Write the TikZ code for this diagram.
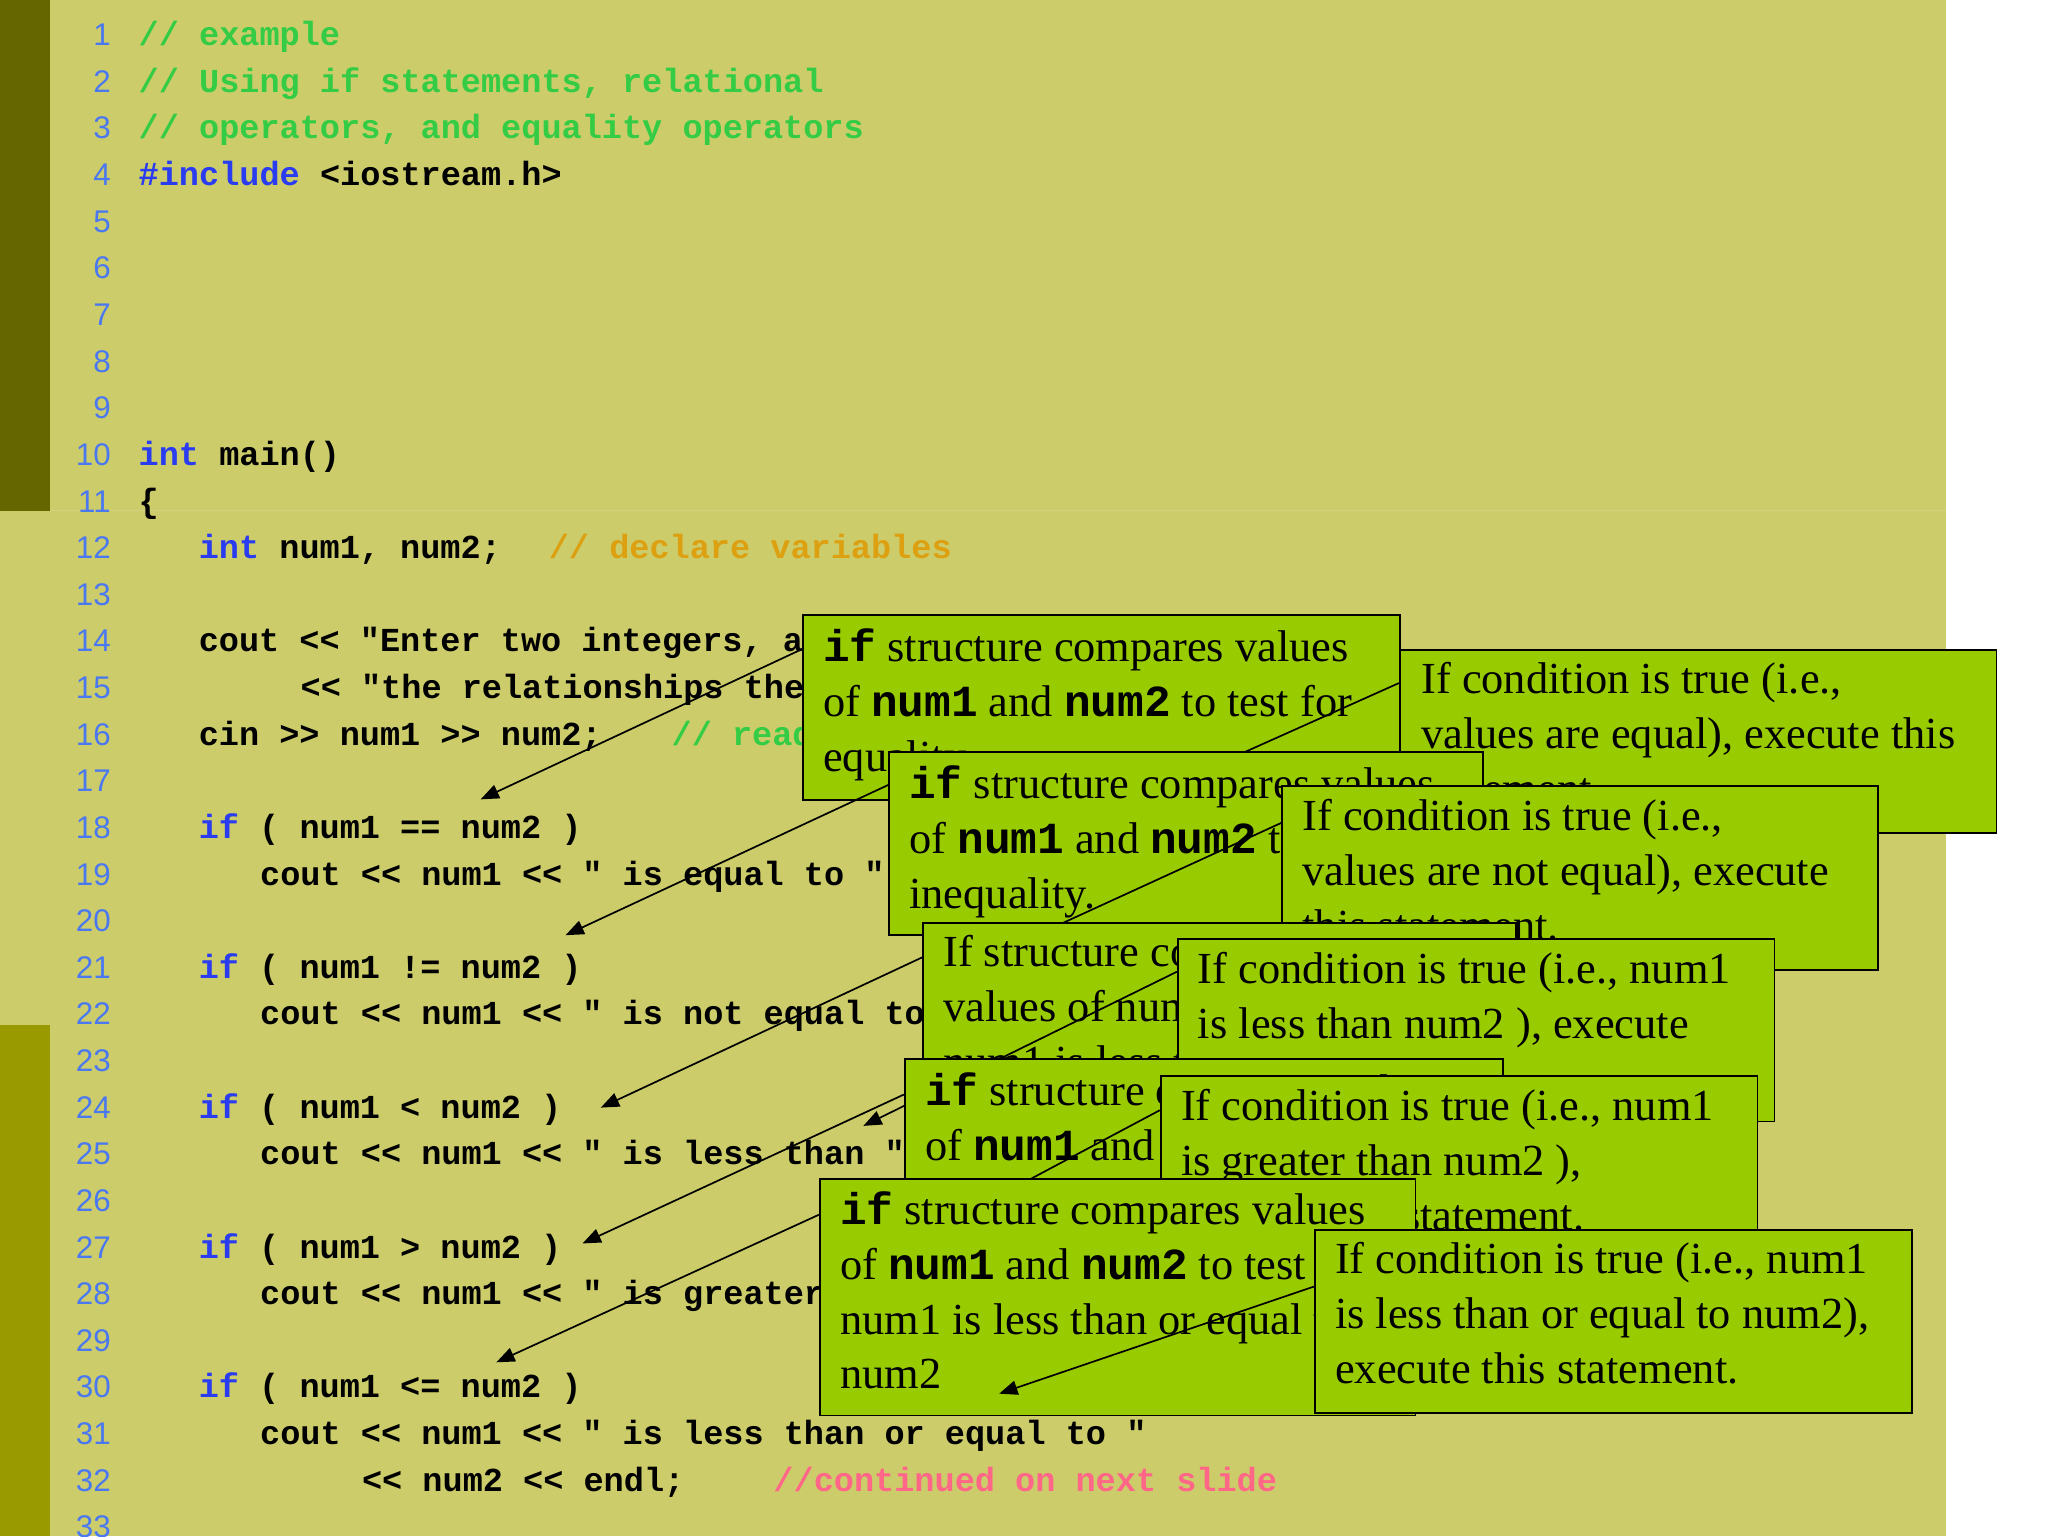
\documentclass[tikz,border=0pt]{standalone}
\usepackage{fontspec}
\setmainfont{Liberation Serif}
\setmonofont{Liberation Mono}
\newfontfamily\numfont{Liberation Sans}
\usetikzlibrary{arrows.meta,calc}
\definecolor{bgc}{HTML}{CCCC6A}
\definecolor{darkstrip}{HTML}{666600}
\definecolor{midstrip}{HTML}{999900}
\definecolor{numc}{HTML}{4A78F0}
\definecolor{kwc}{HTML}{2A3CF0}
\definecolor{cmc}{HTML}{33CC44}
\definecolor{orc}{HTML}{DDA010}
\definecolor{pkc}{HTML}{FF6688}
\definecolor{boxc}{HTML}{99CC00}
\newcommand{\kw}[1]{{\color{kwc}#1}}
\newcommand{\bm}[1]{{\ttfamily\bfseries #1}}
\tikzset{
 codeline/.style={anchor=base west,inner sep=0pt,font=\ttfamily\bfseries\fontsize{25.7}{30}\selectfont},
 lnum/.style={anchor=base east,inner sep=0pt,text=numc,font=\numfont\fontsize{24}{28}\selectfont},
 callout/.style={draw=black,line width=1.3pt,fill=boxc,anchor=north west,inner sep=0pt},
 ctext/.style={anchor=north west,inner sep=0pt,align=left,font=\fontsize{34}{42}\selectfont},
 arr/.style={line width=1.3pt,-{Triangle[length=14pt,width=11pt]}}
}
\newcommand{\cl}[3]{\node[codeline] (c#1) at (#2,{26+(#1-1)*35.7+9}) {#3};}
\begin{document}
\begin{tikzpicture}[x=1pt,y=-1pt]
\useasboundingbox (0,0) rectangle (1568,1176);
\fill[white] (0,0) rectangle (1568,1176);
\fill[bgc] (0,0) rectangle (1490,1176);
\fill[darkstrip] (0,0) rectangle (38,391);
\fill[midstrip] (0,785) rectangle (38,1176);
\draw[bgc!85!white,line width=1pt] (38,391) -- (1490,391);
% line numbers
\foreach \n in {1,...,33} \node[lnum] (n\n) at (85,{26+(\n-1)*35.7+9}) {\n};
% code
\cl{1}{106}{\color{cmc}// example}
\cl{2}{106}{\color{cmc}// Using if statements, relational}
\cl{3}{106}{\color{cmc}// operators, and equality operators}
\cl{4}{106}{\kw{\#include} <iostream.h>}
\cl{10}{106}{\kw{int} main()}
\cl{11}{106}{\{}
\cl{12}{152}{\kw{int} num1, num2;}
\node[codeline,text=orc] (k12) at (420,{26+11*35.7+9}) {// declare variables};
\cl{14}{152}{cout << "Enter two integers, and I will tell you\textbackslash n"}
\cl{15}{230}{<< "the relationships they satisfy: ";}
\cl{16}{152}{cin >> num1 >> num2;}
\node[codeline,text=cmc] (k16) at (514,{26+15*35.7+9}) {// read two integers};
\cl{18}{152}{\kw{if} ( num1 == num2 )}
\cl{19}{199}{cout << num1 << " is equal to " << num2 << endl;}
\cl{21}{152}{\kw{if} ( num1 != num2 )}
\cl{22}{199}{cout << num1 << " is not equal to " << num2 << endl;}
\cl{24}{152}{\kw{if} ( num1 < num2 )}
\cl{25}{199}{cout << num1 << " is less than " << num2 << endl;}
\cl{27}{152}{\kw{if} ( num1 > num2 )}
\cl{28}{199}{cout << num1 << " is greater than " << num2 << endl;}
\cl{30}{152}{\kw{if} ( num1 <= num2 )}
\cl{31}{199}{cout << num1 << " is less than or equal to "}
\cl{32}{277}{<< num2 << endl;}
\node[codeline,text=pkc] (k32) at (592,{26+31*35.7+9}) {//continued on next slide};
% tips
\coordinate (t1) at (368,612);
\coordinate (t2) at (433,716);
\coordinate (t3) at (460,848);
\coordinate (t4) at (446,952);
\coordinate (t5) at (380,1043);
\coordinate (r1) at (720,680);
\coordinate (r2) at (730,745);
\coordinate (r3) at (661,862);
\coordinate (r4) at (700,950);
\coordinate (r5) at (765,1067);
% B1
\node[callout,minimum width=457pt,minimum height=142pt] (b1) at (614,470) {};
\node[ctext] (x1) at (630,481) {\bm{if} structure compares values\\of \bm{num1} and \bm{num2} to test for\\equality.};
\draw[arr] ($(b1.north west)+(0,27)$) -- (t1);
% B2
\node[callout,minimum width=457pt,minimum height=140pt] (b2) at (1071,497) {};
\node[ctext] (x2) at (1088,507) {If condition is true (i.e.,\\values are equal), execute this\\statement.};
\draw[arr] ($(b2.north west)+(0,26)$) -- (r1);
% B3
\node[callout,minimum width=455pt,minimum height=140pt] (b3) at (680,575) {};
\node[ctext] (x3) at (696,586) {\bm{if} structure compares values\\of \bm{num1} and \bm{num2} to test for\\inequality.};
\draw[arr] ($(b3.north west)+(0,26)$) -- (t2);
% B4
\node[callout,minimum width=456pt,minimum height=141pt] (b4) at (981,601) {};
\node[ctext] (x4) at (997,612) {If condition is true (i.e.,\\values are not equal), execute\\this statement.};
\draw[arr] ($(b4.north west)+(0,29)$) -- (r2);
% B5
\node[callout,minimum width=454pt,minimum height=104pt] (b5) at (706,706) {};
\node[ctext] (x5) at (722,716) {If structure compares\\values of num1 and num2 to test if\\num1 is less than num2};
\draw[arr] ($(b5.north west)+(0,27)$) -- (t3);
% B6
\node[callout,minimum width=457pt,minimum height=140pt] (b6) at (901,718) {};
\node[ctext] (x6) at (917,729) {If condition is true (i.e., num1\\is less than num2 ), execute\\this statement.};
\draw[arr] ($(b6.north west)+(0,26)$) -- (r3);
% B7
\node[callout,minimum width=458pt,minimum height=95pt] (b7) at (692,810) {};
\node[ctext] (x7) at (708,821) {\bm{if} structure compares values\\of \bm{num1} and \bm{num2} to test if\\num1 is greater than num2};
\draw[arr] ($(b7.north west)+(0,28)$) -- (t4);
% B8
\node[callout,minimum width=457pt,minimum height=137pt] (b8) at (888,823) {};
\node[ctext] (x8) at (904,834) {If condition is true (i.e., num1\\is greater than num2 ),\\execute this statement.};
\draw[arr] ($(b8.north west)+(0,27)$) -- (r4);
% B9
\node[callout,minimum width=456pt,minimum height=181pt] (b9) at (627,902) {};
\node[ctext] (x9) at (643,912) {\bm{if} structure compares values\\of \bm{num1} and \bm{num2} to test if\\num1 is less than or equal to\\num2};
\draw[arr] ($(b9.north west)+(0,28)$) -- (t5);
% B10
\node[callout,minimum width=457pt,minimum height=140pt] (b10) at (1006,941) {};
\node[ctext] (x10) at (1022,951) {If condition is true (i.e., num1\\is less than or equal to num2),\\execute this statement.};
\draw[arr] ($(b10.north west)+(0,44)$) -- (r5);
\end{tikzpicture}
\end{document}
